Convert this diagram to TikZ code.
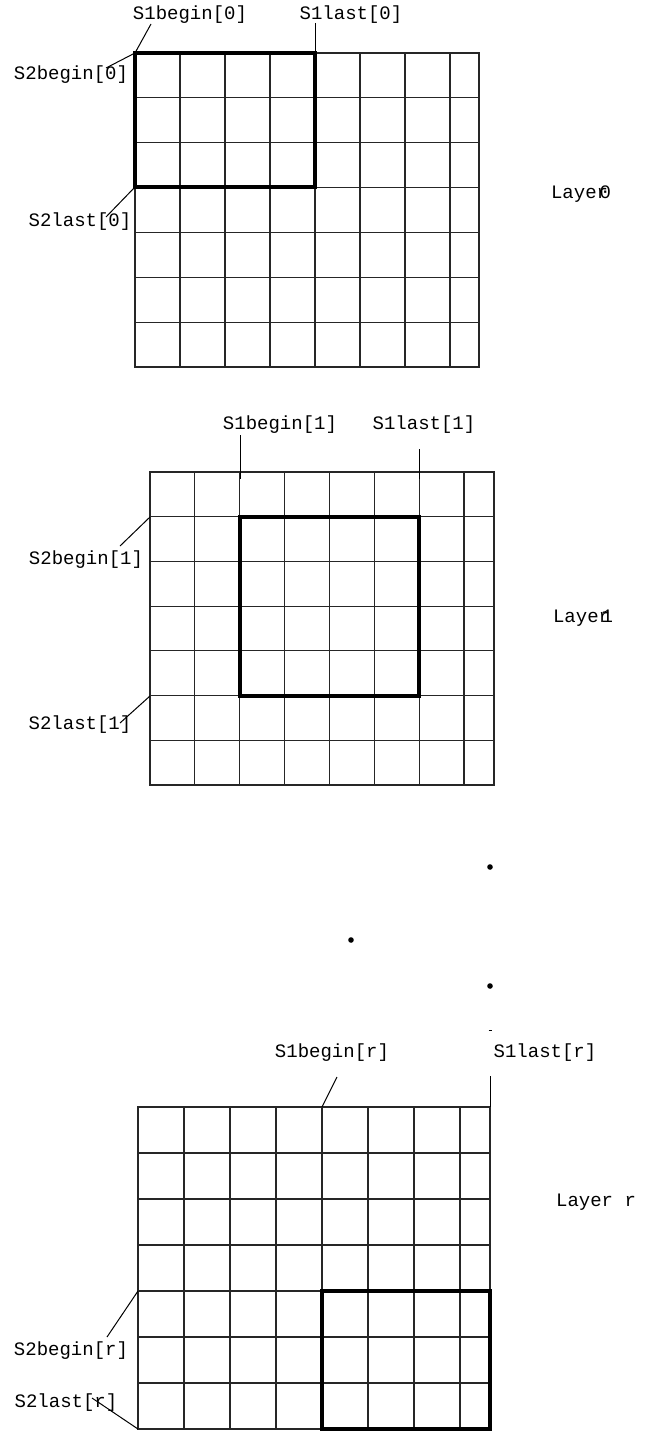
\documentclass[tikz,border=0pt]{standalone}
\usepackage{fontspec}
\setmonofont{Liberation Mono}
\tikzset{
  lbl/.style={font=\ttfamily\fontsize{19}{22}\selectfont, inner sep=0pt, anchor=center},
  gridline/.style={line width=1.1pt, black!85},
  thickbox/.style={line width=3.2pt, black},
  leader/.style={line width=1pt, black},
  dotmark/.style={black}
}
\newcommand\layergrid[6]{%
  % x0,y0,cw,ch,x1,y1
  \draw[gridline] (#1,#2) rectangle (#5,#6);
  \foreach \i in {1,...,7} {\draw[gridline] ({#1+#3*\i},#2) -- ({#1+#3*\i},#6);}
  \foreach \j in {1,...,6} {\draw[gridline] (#1,{#2+#4*\j}) -- (#5,{#2+#4*\j});}
}
\begin{document}
\begin{tikzpicture}[x=1pt,y=-1pt]
\useasboundingbox (0,0) rectangle (652,1431);

% ---------- Layer 0 ----------
\layergrid{135}{53}{45}{44.857}{479}{367}
\draw[thickbox] (135,53) rectangle (315,187);
\coordinate (g0tl) at (135,53);
\coordinate (g0s1l) at (315,53);
\coordinate (g0bl) at (135,187);
\node[lbl] (s1b0) at (190,15) {S1begin[0]};
\node[lbl] (s1l0) at (351,15) {S1last[0]};
\node[lbl] (s2b0) at (71,75) {S2begin[0]};
\node[lbl] (s2l0) at (80,222) {S2last[0]};
\node[lbl] (lay0) at (581,194) {Layer\kern-0.45em0};
\coordinate (s1b0e) at (151,24);
\coordinate (s1l0e) at (315,23);
\coordinate (s2b0e) at (106,68);
\coordinate (s2l0e) at (106,217);
\draw[leader] (s1b0e) -- (g0tl);
\draw[leader] (s1l0e) -- (g0s1l);
\draw[leader] (s2b0e) -- (g0tl);
\draw[leader] (s2l0e) -- (g0bl);

% ---------- Layer 1 ----------
\layergrid{150}{472}{44.857}{44.714}{494}{785}
\draw[thickbox] (240,517) rectangle (419,696);
\coordinate (g1a) at (240,479);
\coordinate (g1b) at (419,479);
\coordinate (g1c) at (150,517);
\coordinate (g1d) at (150,696);
\node[lbl] (s1b1) at (280,425) {S1begin[1]};
\node[lbl] (s1l1) at (424,425) {S1last[1]};
\node[lbl] (s2b1) at (86,560) {S2begin[1]};
\node[lbl] (s2l1) at (80,725) {S2last[1]};
\node[lbl] (lay1) at (583,618) {Layer\kern-0.45em1};
\coordinate (s1b1e) at (240,435);
\coordinate (s1l1e) at (419,449);
\coordinate (s2b1e) at (120,546);
\coordinate (s2l1e) at (120,723);
\draw[leader] (s1b1e) -- (g1a);
\draw[leader] (s1l1e) -- (g1b);
\draw[leader] (s2b1e) -- (g1c);
\draw[leader] (s2l1e) -- (g1d);

% ---------- dots ----------
\fill[dotmark] (490,867) circle (2.8);
\fill[dotmark] (351,940) circle (2.8);
\fill[dotmark] (490,986) circle (2.8);
\draw[leader] (488.5,1030) -- (491.5,1030);

% ---------- Layer r ----------
\layergrid{138}{1107}{46}{46}{490}{1429}
\draw[thickbox] (322,1291) rectangle (490,1429);
\coordinate (gra) at (322,1107);
\coordinate (grb) at (490,1107);
\coordinate (grc) at (138,1291);
\coordinate (grd) at (138,1429);
\node[lbl] (s1br) at (332,1053) {S1begin[r]};
\node[lbl] (s1lr) at (545,1053) {S1last[r]};
\node[lbl] (s2br) at (71,1351) {S2begin[r]};
\node[lbl] (s2lr) at (66,1403) {S2last[r]};
\node[lbl] (layr) at (596,1202) {Layer r};
\coordinate (s1bre) at (337,1077);
\coordinate (s1lre) at (490,1076);
\coordinate (s2bre) at (107,1337);
\coordinate (s2lre) at (92,1398);
\draw[leader] (s1bre) -- (gra);
\draw[leader] (s1lre) -- (grb);
\draw[leader] (s2bre) -- (grc);
\draw[leader] (s2lre) -- (grd);
\end{tikzpicture}
\end{document}
